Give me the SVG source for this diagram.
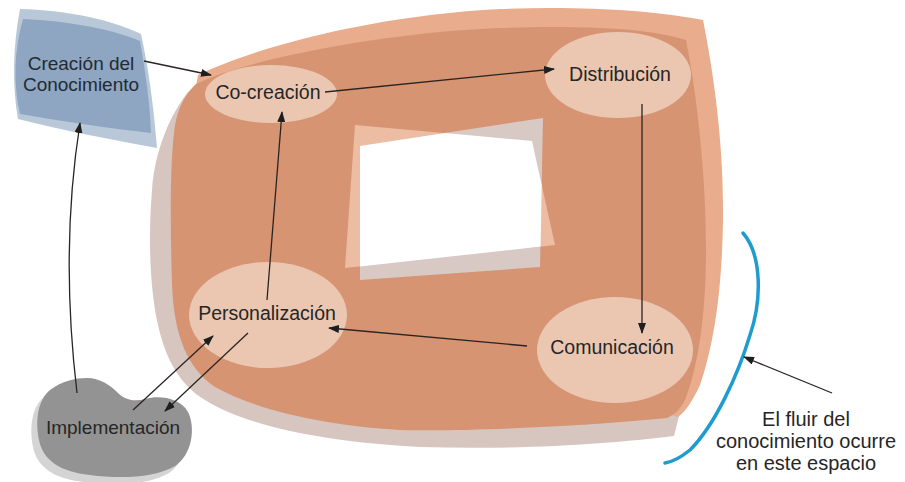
<svg xmlns="http://www.w3.org/2000/svg" width="905" height="482" viewBox="0 0 905 482">
<defs>
<marker id="ah" markerUnits="userSpaceOnUse" markerWidth="11" markerHeight="8" refX="10" refY="4" orient="auto">
<path d="M0,0 L11,4 L0,8 Z" fill="#1e1e1e"/>
</marker>
<style>
.lbl{font-family:"Liberation Sans",Arial,sans-serif;fill:#262626;text-anchor:middle}
.ell{fill:#ebc7b2}
.con{fill:none;stroke:#2a2422;stroke-width:1.3}
</style>
</defs>
<rect width="905" height="482" fill="#ffffff"/>
<g id="space">
<path d="M188,92 C170,115 155,150 152,190 C148,240 150,290 158,325 C166,360 180,385 205,400 C250,428 330,442 420,447 C520,450 610,444 674,436 L680,412 L690,60 L300,60 Z" fill="#d7c5c0"/>
<path d="M198,75 C260,45 380,15 500,9 C580,6 650,10 703,20 C715,80 724,150 723,220 C722,290 714,345 700,385 C693,400 687,410 678,417 L640,405 L300,400 L200,300 L190,120 Z" fill="#e9ac8c"/>
<path d="M196,84 C250,58 390,32 500,28 C580,25 650,28 686,40 C698,100 706,180 706,250 C706,320 697,370 685,400 C680,410 674,415 667,418 C600,425 470,432 400,430 C330,426 260,412 215,387 C187,368 174,335 172,285 C170,220 170,150 176,120 C180,104 187,92 196,84 Z" fill="#d79472"/>
<polygon points="355,125 532,141 555,245 345,268" fill="#edbda3"/>
<polygon points="360,146 543,118 540,267 360,280" fill="#d8c9c5"/>
<polygon points="360,146 445,133 532,141 541.7,185 540.6,246.6 360,266.4" fill="#ffffff"/>
</g>
<g id="creacion">
<path d="M20,9 C65,10 110,19 141,34 C149,70 154,110 157,148 C115,140 60,130 18,119 C12,85 13,45 20,9 Z" fill="#b9c8d9"/>
<path d="M23,19 C68,21 112,29 140,41 C146,75 150,105 151,133 C108,128 60,121 20,114 C13,85 14,50 23,19 Z" fill="#8ea6c2"/>
<text class="lbl" x="81" y="70" font-size="19" style="fill:#232a33">Creación del</text>
<text class="lbl" x="81" y="91" font-size="19" style="fill:#232a33">Conocimiento</text>
</g>
<g id="implementacion">
<path d="M81,385 C94,385 104,392 112,400 C119,407 129,409 139,406 C154,402 174,405 182,419 C190,435 186,462 169,473 C149,485 114,486 84,482 C54,479 37,467 33,447 C29,427 32,407 44,397 C56,388 69,385 81,385 Z" fill="#d4d4d4"/>
<path d="M87,378 C100,378 110,385 118,393 C125,400 135,402 145,399 C160,395 180,398 188,412 C196,428 192,455 175,466 C155,478 120,479 90,475 C60,472 43,460 39,440 C35,420 38,400 50,390 C62,381 75,378 87,378 Z" fill="#939393"/>
<text class="lbl" x="113" y="434" font-size="19">Implementación</text>
</g>
<g id="cocreacion">
<ellipse class="ell" cx="271" cy="94" rx="66" ry="29"/>
<text class="lbl" x="268" y="99" font-size="19.5">Co-creación</text>
</g>
<g id="distribucion">
<ellipse class="ell" cx="618" cy="75" rx="73" ry="43"/>
<text class="lbl" x="620" y="81" font-size="19.5">Distribución</text>
</g>
<g id="comunicacion">
<ellipse class="ell" cx="615" cy="350" rx="78" ry="53"/>
<text class="lbl" x="612" y="354" font-size="19.5">Comunicación</text>
</g>
<g id="personalizacion">
<ellipse class="ell" cx="268" cy="315" rx="79" ry="53"/>
<text class="lbl" x="267" y="320" font-size="19.5">Personalización</text>
</g>
<g id="nota">
<path d="M743,233 C762,255 762,300 750,335 C738,375 715,425 690,450 C680,458 672,462 665,463" fill="none" stroke="#1f9ccf" stroke-width="3.5" stroke-linecap="round"/>
<text class="lbl" x="806" y="426" font-size="20">El fluir del</text>
<text class="lbl" x="806" y="448" font-size="20">conocimiento ocurre</text>
<text class="lbl" x="806" y="470" font-size="20">en este espacio</text>
</g>
<g id="connectors">
<path class="con" d="M144,61 L211,75" marker-end="url(#ah)"/>
<path class="con" d="M325,92 L554,69" marker-end="url(#ah)"/>
<path class="con" d="M642,104 L642,333" marker-end="url(#ah)"/>
<path class="con" d="M527,346 L329,328" marker-end="url(#ah)"/>
<path class="con" d="M267,300 L282,112" marker-end="url(#ah)"/>
<path class="con" d="M133,410 L213,336" marker-end="url(#ah)"/>
<path class="con" d="M248,333 L165,411" marker-end="url(#ah)"/>
<path class="con" d="M77,393 Q60,250 80,123" marker-end="url(#ah)"/>
<path class="con" d="M832,393 L744,357" marker-end="url(#ah)"/>
</g>
</svg>
